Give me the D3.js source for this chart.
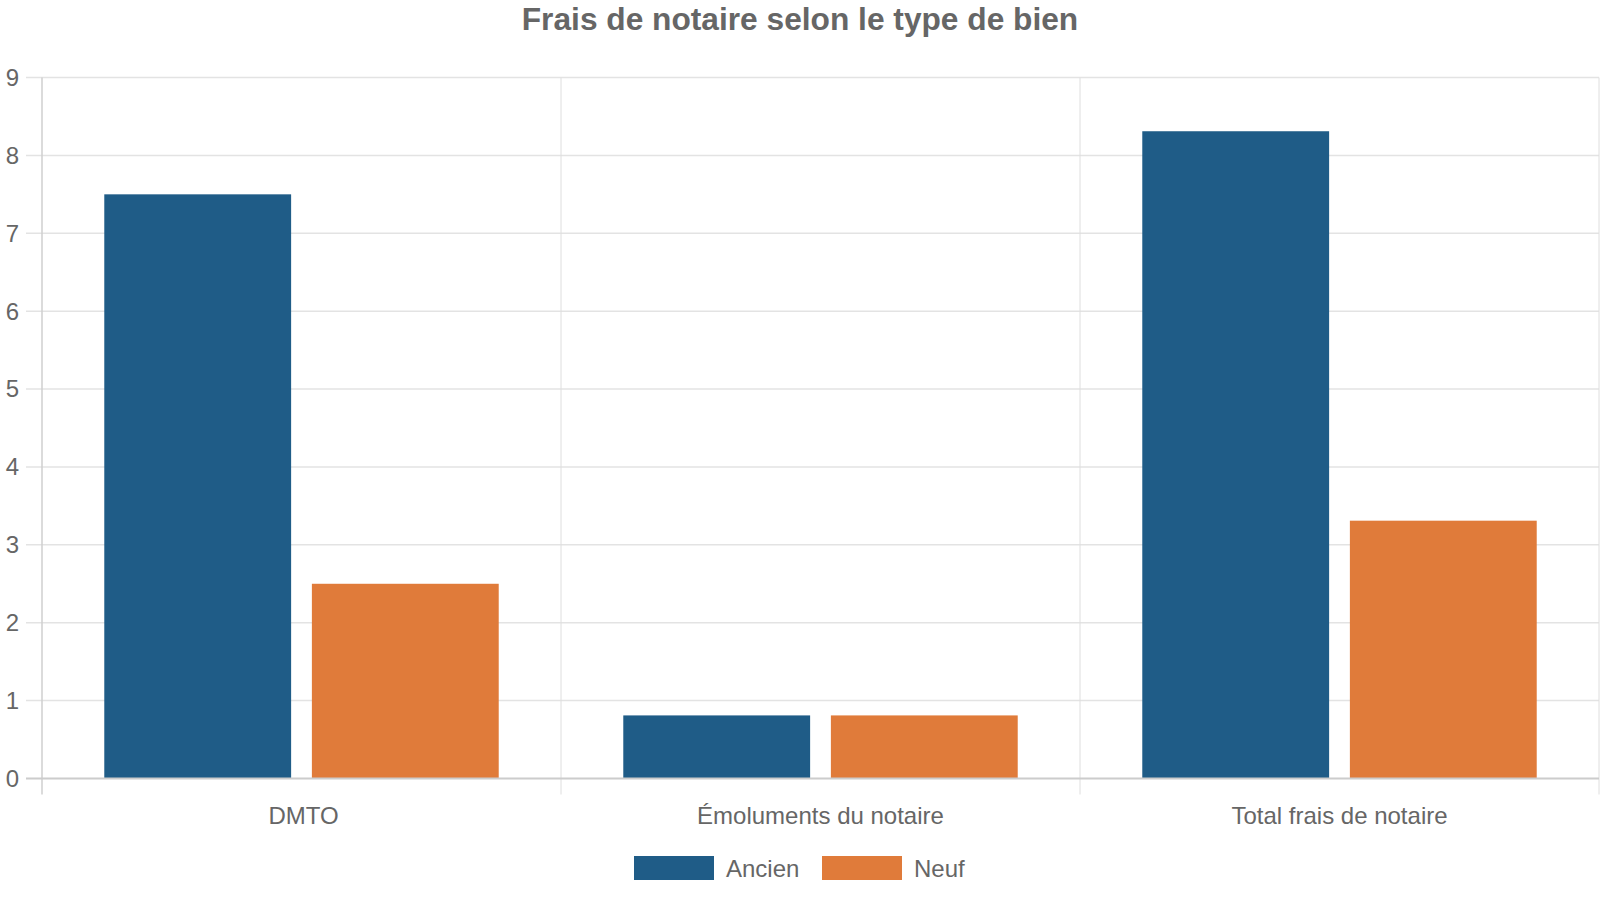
<!DOCTYPE html>
<html>
<head>
<meta charset="utf-8">
<script src="https://cdn.jsdelivr.net/npm/d3@7"></script>
<style>
  html, body { margin: 0; padding: 0; background: #fff; }
  svg { display: block; }
  text { font-family: "Liberation Sans", Arial, sans-serif; fill: #666; }
</style>
</head>
<body>
<script>
const categories = ["DMTO", "Émoluments du notaire", "Total frais de notaire"];
const seriesNames = ["Ancien", "Neuf"];
const ancien = [7.5, 0.81, 8.31];
const neuf = [2.5, 0.81, 3.31];
const yTicks = [0, 1, 2, 3, 4, 5, 6, 7, 8, 9];
const colors = ["#1f5c87", "#e07b3a"];
const title = "Frais de notaire selon le type de bien";

const W = 1600, H = 900;
const margin = { left: 42, right: 1, top: 77.5, bottom: 121.5 };
const svg = d3.select("body").append("svg").attr("width", W).attr("height", H);

const x0 = d3.scaleBand().domain(categories).range([margin.left, W - margin.right]).paddingInner(0).paddingOuter(0);
const x1 = d3.scaleBand().domain(seriesNames).range([0, x0.bandwidth() * 0.8]).paddingInner(0.1).paddingOuter(0.05);
const y = d3.scaleLinear().domain([0, 9]).range([H - margin.bottom, margin.top]);

// horizontal grid
svg.append("g").selectAll("line").data(yTicks.filter(d => d !== 0)).join("line")
  .attr("x1", 26).attr("x2", W - margin.right)
  .attr("y1", d => y(d)).attr("y2", d => y(d))
  .attr("stroke", "#e3e3e3").attr("stroke-width", 1.5);

// vertical grid lines at category boundaries
const bounds = categories.map(c => x0(c)).concat([x0(categories[categories.length - 1]) + x0.bandwidth()]);
svg.append("g").selectAll("line").data(bounds).join("line")
  .attr("x1", d => d).attr("x2", d => d)
  .attr("y1", y(9)).attr("y2", y(0) + 16)
  .attr("stroke", (d, i) => i === 0 ? "#cfcfcf" : "#dedede").attr("stroke-width", (d, i) => i === 0 ? 1.5 : 1);

// y tick labels
svg.append("g").selectAll("text").data(yTicks).join("text")
  .attr("x", 19).attr("y", d => y(d)).attr("dy", "0.35em")
  .attr("text-anchor", "end").attr("font-size", 24)
  .text(d => d);

// bars
const data = categories.map((c, i) => ({ cat: c, vals: [ancien[i], neuf[i]] }));
const groups = svg.append("g").selectAll("g").data(data).join("g")
  .attr("transform", d => `translate(${x0(d.cat) + x0.bandwidth() * 0.1},0)`);
groups.selectAll("rect").data(d => d.vals.map((v, j) => ({ s: seriesNames[j], v, j }))).join("rect")
  .attr("x", d => x1(d.s)).attr("width", x1.bandwidth())
  .attr("y", d => y(d.v)).attr("height", d => y(0) - y(d.v))
  .attr("fill", d => colors[d.j]);

// zero axis line
svg.append("line").attr("x1", 26).attr("x2", W - margin.right)
  .attr("y1", y(0)).attr("y2", y(0)).attr("stroke", "#cccccc").attr("stroke-width", 2);

// category labels
svg.append("g").selectAll("text").data(categories).join("text")
  .attr("x", d => x0(d) + x0.bandwidth() / 2 + (d === categories[0] ? 2 : 0)).attr("y", 824)
  .attr("text-anchor", "middle").attr("font-size", 24)
  .text(d => d);

// title
svg.append("text").attr("x", 800).attr("y", 30).attr("text-anchor", "middle")
  .attr("font-size", 31.7).attr("font-weight", "bold").text(title);

// legend
const legendItems = [
  { name: seriesNames[0], x: 634, color: colors[0] },
  { name: seriesNames[1], x: 822, color: colors[1] }
];
const lg = svg.append("g").selectAll("g").data(legendItems).join("g");
lg.append("rect").attr("x", d => d.x).attr("y", 856).attr("width", 80).attr("height", 24).attr("fill", d => d.color);
lg.append("text").attr("x", d => d.x + 92).attr("y", 877).attr("font-size", 24).text(d => d.name);
</script>
</body>
</html>
